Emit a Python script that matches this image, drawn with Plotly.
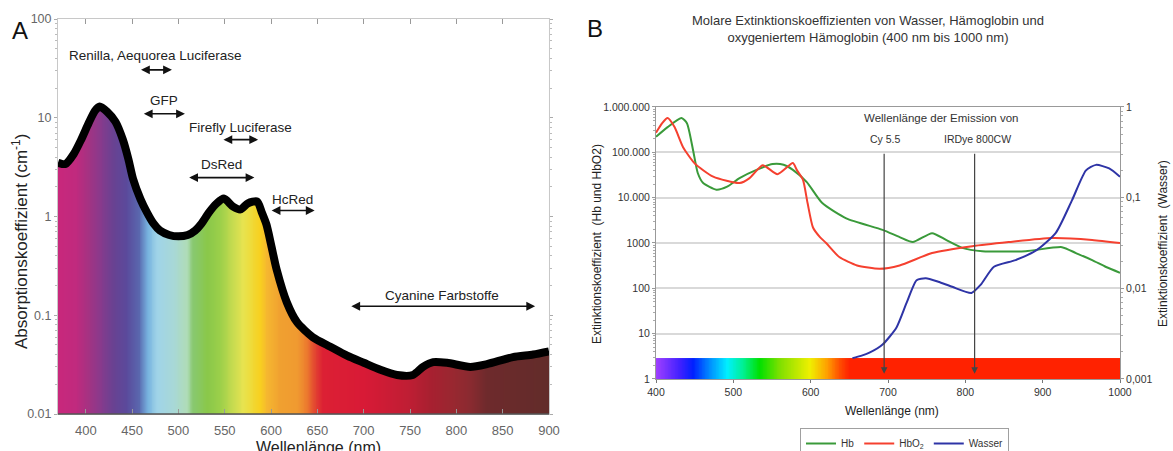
import numpy as np
import plotly.graph_objects as go

FONT = "Liberation Sans, Arial, sans-serif"

# ---------------- Panel A data ----------------
wl_A = [370, 378, 387, 395, 403, 410, 415, 423, 432, 440, 446, 451, 459, 466, 473, 480, 490,
        500, 510, 518, 525, 533, 541, 549, 559, 567, 575, 585, 590, 595, 600, 606, 617, 628,
        645, 664, 682, 700, 718, 736, 753, 764, 775, 790, 815, 833, 861, 883, 900]
abs_A = [3.5, 3.4, 4.3, 6.0, 8.8, 11.8, 13.0, 11.5, 9.1, 6.0, 3.8, 2.4, 1.5, 1.1, 0.85, 0.72, 0.65,
         0.63, 0.65, 0.72, 0.85, 1.1, 1.35, 1.52, 1.26, 1.18, 1.36, 1.42, 1.1, 0.83, 0.52, 0.29, 0.135, 0.085,
         0.06, 0.048, 0.039, 0.033, 0.028, 0.0248, 0.0248, 0.030, 0.0335, 0.033, 0.030, 0.032, 0.0377, 0.040, 0.043]

spec_nm_A = [370, 390, 401, 415, 429, 444, 458, 467, 477, 494, 509, 516, 531, 545, 559, 570,
             588, 595, 610, 628, 639, 645, 656, 700, 747, 772, 797, 815, 833, 900]
spec_col_A = ['#c8287c', '#c02a7e', '#a83282', '#8a3a8c', '#6a4292', '#5a4a9c', '#5a6ab0', '#78b4e0',
              '#a0d4e8', '#a8d8d8', '#b0dcb8', '#88c870', '#8ac84a', '#9cd04a', '#c8dc50', '#e8e450',
              '#f8d020', '#f5b830', '#f0a030', '#f09a30', '#ec7a2e', '#e45030', '#dc2034', '#d81a36',
              '#c01e34', '#a82030', '#982830', '#8a2a30', '#6e2a2c', '#622c2a']

label_A = ["Renilla, Aequorea Luciferase", "GFP", "Firefly Luciferase", "DsRed", "HcRed", "Cyanine Farbstoffe"]
range_lo_A = [458, 461, 547, 510, 599, 685]
range_hi_A = [493, 507, 586, 582, 647, 885]

# ---------------- Panel B data ----------------
wl_Hb = [400, 415, 433, 440, 448, 454, 461, 478, 492, 508, 530, 551, 565, 577, 595, 615, 646,
         693, 715, 732, 757, 775, 796, 822, 878, 925, 943, 964, 982, 1000]
Hb = [2.2e5, 3.6e5, 5.7e5, 4.4e5, 1.1e5, 3.5e4, 2.1e4, 1.5e4, 1.75e4, 2.7e4, 4.1e4, 5.5e4, 5.3e4, 4.1e4,
      2.2e4, 7.6e3, 3.5e3, 1.95e3, 1.35e3, 1.05e3, 1.65e3, 1.17e3, 780, 660, 660, 810, 600, 420, 295, 220]

wl_HbO2 = [400, 408, 415, 424, 435, 450, 474, 508, 521, 538, 557, 577, 582, 590, 596, 603, 612,
           620, 637, 660, 689, 715, 757, 809, 856, 912, 964, 1000]
HbO2 = [2.7e5, 4.4e5, 5.7e5, 3.6e5, 1.3e5, 5.7e4, 2.9e4, 2.1e4, 2.7e4, 5.2e4, 3.3e4, 5.8e4, 4.1e4, 2.5e4,
        7.6e3, 2.2e3, 1.35e3, 1000, 490, 320, 270, 320, 600, 850, 1050, 1290, 1170, 1000]

wl_W = [654, 665, 676, 693, 711, 724, 737, 749, 765, 783, 808, 820, 837, 865, 891, 917, 938, 956, 969, 986, 1000]
Wasser = [0.0017, 0.0018, 0.00195, 0.0024, 0.0037, 0.0069, 0.0123, 0.0129, 0.0118, 0.0104, 0.0089, 0.011,
          0.0173, 0.0205, 0.026, 0.041, 0.094, 0.2, 0.23, 0.21, 0.17]

spec_nm_B = [400, 431, 448, 470, 492, 513, 534, 560, 599, 621, 637, 650, 1000]
spec_col_B = ['#a040ff', '#4020ff', '#0020ff', '#0090ff', '#00f0ff', '#00f090', '#00e000', '#80e000',
              '#f0f000', '#ffa000', '#ff5000', '#ff2200', '#ff2200']

dye_names = ["Cy 5.5", "IRDye 800CW"]
dye_nm = [695, 812]

ytick_A = [0.01, 0.1, 1, 10, 100]
ytick_A_txt = ["0.01", "0.1", "1", "10", "100"]
xtick_A = [400, 450, 500, 550, 600, 650, 700, 750, 800, 850, 900]
ytick_B = [1, 10, 100, 1000, 1e4, 1e5, 1e6]
ytick_B_txt = ["1", "10", "100", "1000", "10.000", "100.000", "1.000.000"]
ytick_W = [0.001, 0.01, 0.1, 1]
ytick_W_txt = ["0,001", "0,01", "0,1", "1"]
xtick_B = [400, 500, 600, 700, 800, 900, 1000]


def cscale(nms, cols):
    lo, hi = nms[0], nms[-1]
    return [[(n - lo) / (hi - lo), c] for n, c in zip(nms, cols)]


fig = go.Figure()

# ---- Panel A ----
edgesA = np.arange(spec_nm_A[0], spec_nm_A[-1] + 1, 1)
centersA = (edgesA[:-1] + edgesA[1:]) / 2
fig.add_trace(go.Heatmap(x=edgesA, y=[0.01, 100], z=[centersA], colorscale=cscale(spec_nm_A, spec_col_A),
                         zmin=spec_nm_A[0], zmax=spec_nm_A[-1], showscale=False, hoverinfo='skip',
                         xaxis='x', yaxis='y'))
fig.add_trace(go.Scatter(x=[370, 900], y=[100, 100], mode='lines', line=dict(width=0, color='white'),
                         showlegend=False, hoverinfo='skip', xaxis='x', yaxis='y'))
fig.add_trace(go.Scatter(x=wl_A, y=abs_A, mode='lines',
                         line=dict(color='black', width=8, shape='spline', smoothing=0.7),
                         fill='tonexty', fillcolor='white', showlegend=False, xaxis='x', yaxis='y'))

# ---- Panel B ----
edgesB = np.arange(spec_nm_B[0], spec_nm_B[-1] + 1, 1)
centersB = (edgesB[:-1] + edgesB[1:]) / 2
fig.add_trace(go.Heatmap(x=edgesB, y=[1, 2.9], z=[centersB], colorscale=cscale(spec_nm_B, spec_col_B),
                         zmin=spec_nm_B[0], zmax=spec_nm_B[-1], showscale=False, hoverinfo='skip',
                         xaxis='x2', yaxis='y2'))
fig.add_trace(go.Scatter(x=wl_Hb, y=Hb, mode='lines', name='Hb',
                         line=dict(color='#3a9a3a', width=2, shape='spline', smoothing=0.6),
                         xaxis='x2', yaxis='y2'))
fig.add_trace(go.Scatter(x=wl_HbO2, y=HbO2, mode='lines', name='HbO<sub>2</sub>',
                         line=dict(color='#f5402f', width=2, shape='spline', smoothing=0.6),
                         xaxis='x2', yaxis='y2'))
fig.add_trace(go.Scatter(x=wl_W, y=Wasser, mode='lines', name='Wasser',
                         line=dict(color='#2e34a6', width=2, shape='spline', smoothing=0.6),
                         xaxis='x2', yaxis='y3'))

ann = []
# Panel A labels and double arrows
text_y_A = [1.626, 1.172, 0.899, 0.525, 0.172, -0.798]
arrow_y_A = [1.485, 1.04, 0.778, 0.394, 0.061, -0.909]
for lab, lo, hi, ty, ay in zip(label_A, range_lo_A, range_hi_A, text_y_A, arrow_y_A):
    ann.append(dict(x=hi, y=ay, ax=lo, ay=ay, xref='x', yref='y', axref='x', ayref='y', text='',
                    showarrow=True, arrowhead=2, arrowside='end+start', arrowsize=1.1, arrowwidth=1.6,
                    arrowcolor='#111', standoff=0, startstandoff=0))
    ann.append(dict(x=(lo + hi) / 2, y=ty, xref='x', yref='y', text=lab, showarrow=False,
                    font=dict(family=FONT, size=13.5, color='#222'), xanchor='center', yanchor='middle'))

# Panel B emission arrows
for nm in dye_nm:
    ann.append(dict(x=nm, y=np.log10(1.3), ax=nm, ay=5, xref='x2', yref='y2', axref='x2', ayref='y2',
                    text='', showarrow=True, arrowhead=2, arrowsize=1.1, arrowwidth=1.2,
                    arrowcolor='#444', standoff=0))


def pann(x, y, text, size, color='#222', angle=0, xa='center', ya='middle'):
    return dict(x=x / 1173, y=1 - y / 451, xref='paper', yref='paper', text=text, textangle=angle,
                showarrow=False, xanchor=xa, yanchor=ya, font=dict(family=FONT, size=size, color=color))


ann += [
    pann(20, 30, 'A', 24, '#111'),
    pann(595, 28, 'B', 24, '#111'),
    pann(20, 242, 'Absorptionskoeffizient (cm<sup>-1</sup>)', 17, angle=-90),
    pann(318, 437, 'Wellenlänge (nm)', 16, ya='top'),
    pann(868, 29, 'Molare Extinktionskoeffizienten von Wasser, Hämoglobin und<br>'
                  'oxygeniertem Hämoglobin (400 nm bis 1000 nm)', 13, '#333'),
    pann(597, 244, 'Extinktionskoeffizient  (Hb und HbO2)', 12, angle=-90),
    pann(1163, 244, 'Extinktionskoeffizient  (Wasser)', 12, angle=-90),
    pann(892, 411, 'Wellenlänge (nm)', 12),
    pann(862, 118, 'Wellenlänge der Emission von', 11.5, '#333', xa='left'),
    pann(868, 139, dye_names[0], 10.5, '#333', xa='left'),
    pann(942, 139, dye_names[1], 10.5, '#333', xa='left'),
]

shapes = [
    dict(type='line', xref='x', yref='paper', x0=370, x1=900, y0=0.08204, y1=0.08204,
         line=dict(color='#555', width=1.5)),
]

fig.update_layout(
    width=1173, height=451, margin=dict(l=0, r=0, t=0, b=0, autoexpand=False),
    paper_bgcolor='white', plot_bgcolor='white',
    font=dict(family=FONT),
    annotations=ann, shapes=shapes,
    xaxis=dict(domain=[0.04945, 0.46803], range=[370, 900], tickmode='array', tickvals=xtick_A,
               ticks='inside', ticklen=5, tickcolor='#999', mirror='allticks', showline=True,
               linecolor='#c8c8c8', linewidth=1, showgrid=False, zeroline=False, anchor='y',
               tickfont=dict(size=13, color='#666'), ticklabelstandoff=4, automargin=False),
    yaxis=dict(domain=[0.08204, 0.95787], type='log', range=[-2, 2], tickmode='array', tickvals=ytick_A,
               ticktext=ytick_A_txt, ticks='outside', ticklen=3, tickcolor='#aaa', mirror='allticks',
               showline=True, linecolor='#c8c8c8', linewidth=1, showgrid=False, zeroline=False,
               anchor='x', tickfont=dict(size=12.5, color='#666'), automargin=False,
               minor=dict(ticks='outside', ticklen=2, tickcolor='#bbb', dtick='D1', showgrid=False)),
    xaxis2=dict(domain=[0.55925, 0.95482], range=[400, 1000], tickmode='array', tickvals=xtick_B,
                ticks='outside', ticklen=3, tickcolor='#777', showline=True, linecolor='#999',
                mirror=True, showgrid=False, zeroline=False, anchor='y2', automargin=False,
                tickfont=dict(size=10.5, color='#333')),
    yaxis2=dict(domain=[0.15965, 0.76275], type='log', range=[0, 6], tickmode='array', tickvals=ytick_B,
                ticktext=ytick_B_txt, showgrid=True, gridcolor='#d9d9d9', gridwidth=1.5,
                showline=True, linecolor='#999', ticks='outside', ticklen=3, tickcolor='#999',
                zeroline=False, anchor='x2', tickfont=dict(size=10.5, color='#333'), automargin=False,
                minor=dict(ticks='outside', ticklen=2, tickcolor='#aaa', dtick='D1', showgrid=False)),
    yaxis3=dict(overlaying='y2', side='right', type='log', range=[-3, 0], tickmode='array',
                tickvals=ytick_W, ticktext=ytick_W_txt, showgrid=False, showline=True,
                linecolor='#999', ticks='outside', ticklen=3, tickcolor='#999', zeroline=False,
                anchor='x2', tickfont=dict(size=10.5, color='#333'), automargin=False,
                minor=dict(ticks='outside', ticklen=2, tickcolor='#aaa', dtick='D1', showgrid=False)),
    legend=dict(orientation='h', x=800 / 1173, y=0.051, xanchor='left', yanchor='top',
                traceorder='normal', bordercolor='#a0a0a0', borderwidth=1, bgcolor='white',
                font=dict(family=FONT, size=10, color='#333')),
    showlegend=True,
)

fig.write_html("out.html")
